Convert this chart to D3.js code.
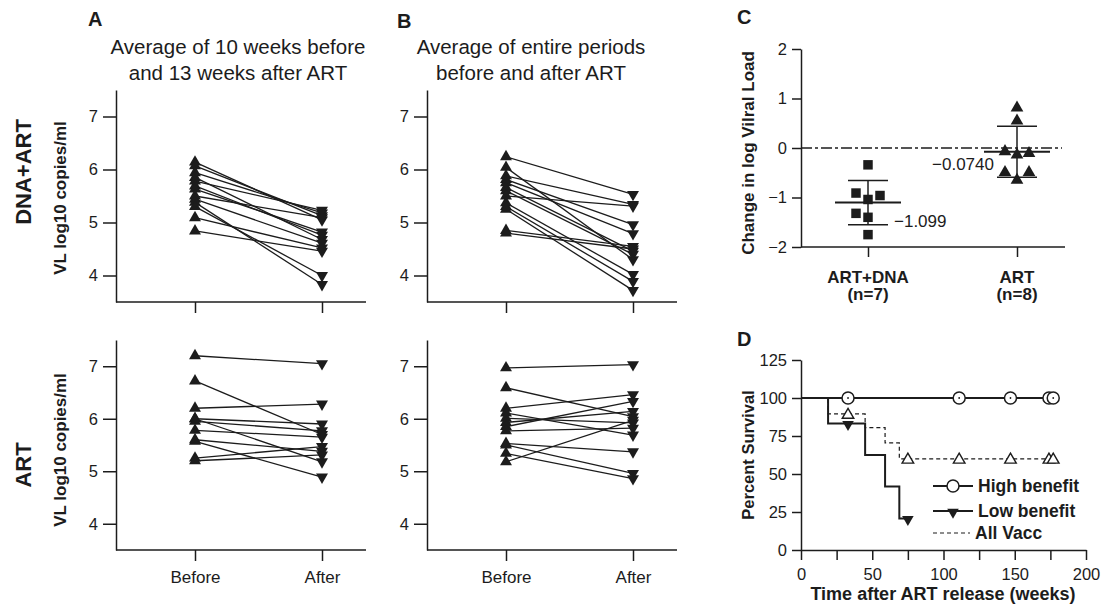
<!DOCTYPE html>
<html><head><meta charset="utf-8">
<script src="https://cdn.jsdelivr.net/npm/d3@7"></script>
<style>body{margin:0;background:#fff}</style>
</head><body><svg id="c" width="1103" height="607"></svg>
<script>
// ---------- DATA ----------
const xCats = ["Before", "After"];
const yTicksVL = [4, 5, 6, 7];
// Panel A (average of 10 weeks before / 13 weeks after ART)
const aDnaBefore = [6.14, 6.07, 5.94, 5.85, 5.78, 5.69, 5.63, 5.50, 5.44, 5.38, 5.30, 5.09, 4.84];
const aDnaAfter  = [5.05, 5.13, 5.18, 4.68, 5.23, 4.76, 4.82, 5.09, 4.61, 3.83, 4.00, 4.52, 4.46];
const aArtBefore = [7.20, 6.72, 6.20, 6.00, 6.00, 5.95, 5.78, 5.60, 5.57, 5.25, 5.20];
const aArtAfter  = [7.05, 5.70, 6.28, 5.90, 5.18, 5.77, 5.65, 5.38, 4.89, 5.47, 5.31];
// Panel B (average of entire periods)
const bDnaBefore = [6.24, 6.04, 5.88, 5.81, 5.75, 5.66, 5.60, 5.50, 5.37, 5.30, 5.25, 4.85, 4.80];
const bDnaAfter  = [5.53, 4.30, 5.34, 4.96, 4.79, 4.46, 4.40, 5.31, 4.02, 3.89, 3.72, 4.55, 4.50];
const bArtBefore = [6.97, 6.59, 6.20, 6.11, 6.01, 5.93, 5.85, 5.77, 5.53, 5.50, 5.34, 5.18];
const bArtAfter  = [7.03, 6.04, 6.46, 5.69, 5.92, 6.14, 6.33, 5.82, 5.37, 4.96, 4.86, 5.97];
// Panel C
const cGroups = ["ART+DNA", "ART"];
const cGroupN = ["(n=7)", "(n=8)"];
const cArtDna = [-0.34, -0.91, -0.96, -1.04, -1.32, -1.40, -1.75];
const cArt    = [0.81, 0.55, -0.07, -0.11, -0.14, -0.49, -0.49, -0.65];
const cMeanLabels = ["\u22121.099", "\u22120.0740"];
const cTicks = [-2, -1, 0, 1, 2];
// Panel D (Kaplan-Meier)
const dHighT = [0, 178];            const dHighS = [100, 100];
const dHighCensT = [33, 111, 147, 174, 177];
const dLowT = [0, 19, 45, 59, 69, 75];   const dLowS = [100, 83.3, 62.5, 41.7, 20.8, 20.8];
const dLowCensT = [33, 75];
const dAllT = [0, 19, 45, 59, 69, 177];  const dAllS = [100, 89.5, 80.5, 70.5, 60, 60];
const dAllCensT = [33, 75, 111, 147, 174, 177];
const dYTicks = [0, 25, 50, 75, 100, 125];
const dXTicks = [0, 25, 50, 75, 100, 125, 150, 175, 200];
const dLegend = ["High benefit", "Low benefit", "All Vacc"];

// ---------- DRAWING ----------
const FONT = '"Liberation Sans", Arial, Helvetica, sans-serif';
const ink = "#1c1c1c";
const svg = d3.select("#c");

function styleAxis(g, fs, bold) {
  g.attr("font-size", fs).attr("font-family", FONT);
  g.selectAll("path,line").attr("stroke", ink).attr("stroke-width", 1.5);
  g.selectAll("text").attr("fill", ink).attr("font-weight", bold ? "bold" : "normal");
}
const triUp = d3.symbol(d3.symbolTriangle, 62)();

function paired(x0, yTop, yBot, before, after, showLabels) {
  const x = d3.scalePoint().domain(xCats).range([x0 + 79, x0 + 206]);
  const y = d3.scaleLinear().domain([3.5, 7.5]).range([yBot, yTop]);
  const ya = svg.append("g").attr("transform", `translate(${x0},0)`)
    .call(d3.axisLeft(y).tickValues(yTicksVL).tickSize(13).tickSizeOuter(0).tickPadding(5).tickFormat(d3.format("d")));
  styleAxis(ya, 16.5);
  const xa = svg.append("g").attr("transform", `translate(0,${yBot})`)
    .call(d3.axisBottom(x).tickSize(11).tickSizeOuter(0).tickPadding(10).tickFormat(showLabels ? d => d : () => ""));
  xa.select(".domain").remove();
  styleAxis(xa, 17);
  svg.append("line").attr("x1", x0).attr("x2", x0 + 250).attr("y1", yBot).attr("y2", yBot)
    .attr("stroke", ink).attr("stroke-width", 1.5);
  const pairs = before.map((b, i) => ({ b, a: after[i] }));
  const g = svg.append("g");
  g.selectAll("line.pl").data(pairs).join("line")
    .attr("x1", x("Before")).attr("x2", x("After"))
    .attr("y1", d => y(d.b)).attr("y2", d => y(d.a))
    .attr("stroke", ink).attr("stroke-width", 1.3);
  g.selectAll("path.up").data(pairs).join("path")
    .attr("d", triUp).attr("fill", ink)
    .attr("transform", d => `translate(${x("Before")},${y(d.b)})`);
  g.selectAll("path.dn").data(pairs).join("path")
    .attr("d", triUp).attr("fill", ink)
    .attr("transform", d => `translate(${x("After")},${y(d.a)}) rotate(180)`);
}

paired(116, 90, 302, aDnaBefore, aDnaAfter, false);
paired(427, 90, 302, bDnaBefore, bDnaAfter, false);
paired(116, 340, 550, aArtBefore, aArtAfter, true);
paired(427, 340, 550, bArtBefore, bArtAfter, true);

function txt(x, y, s, fs, opts = {}) {
  const t = svg.append("text").attr("x", x).attr("y", y).text(s)
    .attr("font-size", fs).attr("font-family", FONT).attr("fill", ink)
    .attr("font-weight", opts.bold ? "bold" : "normal")
    .attr("text-anchor", opts.anchor || "start");
  if (opts.rot) t.attr("transform", `rotate(-90,${x},${y})`);
  return t;
}
// titles & labels
txt(88, 26, "A", 20, { bold: true });
txt(397, 28, "B", 20, { bold: true });
txt(737, 24, "C", 20, { bold: true });
txt(737, 346, "D", 20, { bold: true });
txt(238, 54, "Average of 10 weeks before", 20.5, { anchor: "middle" });
txt(238, 80, "and 13 weeks after ART", 20.5, { anchor: "middle" });
txt(531, 54, "Average of entire periods", 20.5, { anchor: "middle" });
txt(531, 80, "before and after ART", 20.5, { anchor: "middle" });
txt(31, 172, "DNA+ART", 22, { bold: true, anchor: "middle", rot: true });
txt(31, 465, "ART", 22, { bold: true, anchor: "middle", rot: true });
txt(66, 198, "VL log10 copies/ml", 17, { bold: true, anchor: "middle", rot: true });
txt(66, 450, "VL log10 copies/ml", 17, { bold: true, anchor: "middle", rot: true });

// ---------- Panel C ----------
{
  const x = d3.scalePoint().domain(cGroups).range([868, 1017]);
  const y = d3.scaleLinear().domain([-2, 2]).range([247, 49]);
  const ya = svg.append("g").attr("transform", "translate(801,0)")
    .call(d3.axisLeft(y).tickValues(cTicks).tickSize(9).tickSizeOuter(0).tickPadding(5)
      .tickFormat(d => d < 0 ? "\u2212" + Math.abs(d) : d));
  styleAxis(ya, 16.5);
  const xa = svg.append("g").attr("transform", "translate(0,247)")
    .call(d3.axisBottom(x).tickSize(10).tickSizeOuter(0).tickFormat(() => ""));
  xa.select(".domain").remove();
  styleAxis(xa, 16);
  svg.append("line").attr("x1", 801).attr("x2", 1065).attr("y1", 247).attr("y2", 247)
    .attr("stroke", ink).attr("stroke-width", 1.5);
  cGroups.forEach((gname, i) => {
    txt(x(gname), 283, gname, 17, { bold: true, anchor: "middle" });
    txt(x(gname), 300, cGroupN[i], 17, { bold: true, anchor: "middle" });
  });
  svg.append("line").attr("x1", 801).attr("x2", 1062).attr("y1", y(0)).attr("y2", y(0))
    .attr("stroke", ink).attr("stroke-width", 1.3).attr("stroke-dasharray", "11,3,3,3");
  txt(754, 153, "Change in log Vilral Load", 17, { bold: true, anchor: "middle", rot: true });

  // cluster-based jitter pattern
  const pattern = { 1: [0], 2: [-1, 0], 3: [-1, 1, 0], 4: [-1, 1, 0, 0] };
  const groups = [cArtDna, cArt];
  groups.forEach((vals, gi) => {
    const cx = x(cGroups[gi]);
    const sorted = vals.slice().sort((a, b) => b - a);
    const clusters = [];
    sorted.forEach((v, i) => {
      if (i > 0 && Math.abs(y(v) - y(sorted[i - 1])) < 10) clusters[clusters.length - 1].push(v);
      else clusters.push([v]);
    });
    const pts = [];
    clusters.forEach(c => c.forEach((v, k) => pts.push({ v, py: y(v), off: pattern[c.length][k] })));
    const m = d3.mean(vals), sd = d3.deviation(vals);
    const eg = svg.append("g").attr("stroke", ink);
    eg.append("line").attr("x1", cx).attr("x2", cx).attr("y1", y(m + sd)).attr("y2", y(m - sd)).attr("stroke-width", 1.5);
    eg.append("line").attr("x1", cx - 20).attr("x2", cx + 20).attr("y1", y(m + sd)).attr("y2", y(m + sd)).attr("stroke-width", 1.5);
    eg.append("line").attr("x1", cx - 20).attr("x2", cx + 20).attr("y1", y(m - sd)).attr("y2", y(m - sd)).attr("stroke-width", 1.5);
    eg.append("line").attr("x1", cx - 33).attr("x2", cx + 33).attr("y1", y(m)).attr("y2", y(m)).attr("stroke-width", 2);
    const sym = gi === 0 ? d3.symbol(d3.symbolSquare, 90)() : d3.symbol(d3.symbolTriangle, 70)();
    svg.append("g").selectAll("path").data(pts).join("path")
      .attr("d", sym).attr("fill", ink)
      .attr("transform", d => `translate(${cx + d.off * 12},${d.py})`);
    if (gi === 0) txt(cx + 26, y(m) + 24, cMeanLabels[0], 17, {});
    else txt(cx - 23, y(m) + 18, cMeanLabels[1], 17, { anchor: "end" });
  });
}

// ---------- Panel D ----------
{
  const x = d3.scaleLinear().domain([0, 200]).range([801, 1086]);
  const y = d3.scaleLinear().domain([0, 125]).range([550, 360]);
  const ya = svg.append("g").attr("transform", "translate(801,0)")
    .call(d3.axisLeft(y).tickValues(dYTicks).tickSize(9).tickSizeOuter(0).tickPadding(5));
  styleAxis(ya, 16.5);
  const xa = svg.append("g").attr("transform", "translate(0,550)")
    .call(d3.axisBottom(x).tickValues(dXTicks).tickSize(10).tickSizeOuter(0).tickPadding(8)
      .tickFormat(d => d % 50 === 0 ? d : ""));
  styleAxis(xa, 16.5);
  txt(943, 600, "Time after ART release (weeks)", 18, { bold: true, anchor: "middle" });
  txt(754, 455, "Percent Survival", 16.5, { bold: true, anchor: "middle", rot: true });

  const step = d3.line().x(d => x(d[0])).y(d => y(d[1])).curve(d3.curveStepAfter);
  const zip = (t, s) => t.map((v, i) => [v, s[i]]);
  const survAt = (T, S, t) => { let s = S[0]; T.forEach((tt, i) => { if (tt <= t) s = S[i]; }); return s; };

  svg.append("path").attr("d", step(zip(dAllT, dAllS))).attr("fill", "none")
    .attr("stroke", ink).attr("stroke-width", 1.2).attr("stroke-dasharray", "4,3");
  svg.append("path").attr("d", step(zip(dLowT, dLowS))).attr("fill", "none")
    .attr("stroke", ink).attr("stroke-width", 2);
  svg.append("path").attr("d", step(zip(dHighT, dHighS))).attr("fill", "none")
    .attr("stroke", ink).attr("stroke-width", 2);

  const tri = d3.symbol(d3.symbolTriangle, 58)();
  svg.append("g").selectAll("path").data(dAllCensT).join("path")
    .attr("d", tri).attr("fill", "#fff").attr("stroke", ink).attr("stroke-width", 1.4)
    .attr("transform", t => `translate(${x(t)},${y(survAt(dAllT, dAllS, t)) + 1})`);
  svg.append("g").selectAll("path").data(dLowCensT).join("path")
    .attr("d", tri).attr("fill", ink)
    .attr("transform", t => `translate(${x(t)},${y(survAt(dLowT, dLowS, t)) + 1}) rotate(180)`);
  const cg = svg.append("g").selectAll("g").data(dHighCensT).join("g")
    .attr("transform", t => `translate(${x(t)},${y(survAt(dHighT, dHighS, t))})`);
  cg.append("circle").attr("r", 6).attr("fill", "#fff").attr("stroke", ink).attr("stroke-width", 1.5);
  cg.append("circle").attr("r", 0.9).attr("fill", ink);

  // legend
  const lx1 = 933, lx2 = 973, lys = [486, 511, 533];
  svg.append("line").attr("x1", lx1).attr("x2", lx2).attr("y1", lys[0]).attr("y2", lys[0]).attr("stroke", ink).attr("stroke-width", 2);
  svg.append("circle").attr("cx", (lx1 + lx2) / 2).attr("cy", lys[0]).attr("r", 6).attr("fill", "#fff").attr("stroke", ink).attr("stroke-width", 1.5);
  svg.append("line").attr("x1", lx1).attr("x2", lx2).attr("y1", lys[1]).attr("y2", lys[1]).attr("stroke", ink).attr("stroke-width", 2);
  svg.append("path").attr("d", tri).attr("fill", ink).attr("transform", `translate(${(lx1 + lx2) / 2},${lys[1] + 1}) rotate(180)`);
  svg.append("line").attr("x1", lx1).attr("x2", lx2 - 3).attr("y1", lys[2]).attr("y2", lys[2]).attr("stroke", ink).attr("stroke-width", 1.2).attr("stroke-dasharray", "4,3");
  dLegend.forEach((s, i) => txt(i === 2 ? 975 : 978, lys[i] + 6, s, 17.5, { bold: true }));
}
</script></body></html>
